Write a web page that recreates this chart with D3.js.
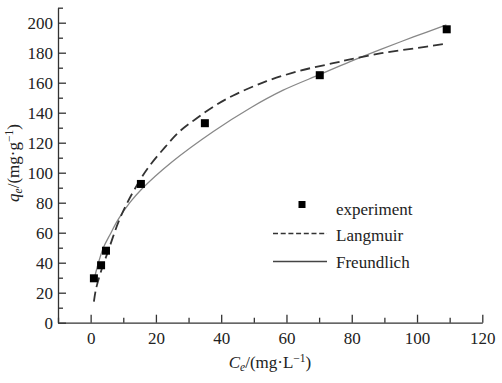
<!DOCTYPE html>
<html>
<head>
<meta charset="utf-8">
<script src="https://cdn.jsdelivr.net/npm/d3@7"></script>
<style>
  body { margin: 0; background: #fff; }
  svg text { font-family: "Times New Roman", "Liberation Serif", "DejaVu Serif", serif; fill: #222; }
</style>
</head>
<body>
<div id="container"></div>
<script>
// experiment points [Ce, qe]
var experiment = [[1.0, 29.6], [3.2, 38.3], [4.7, 48], [15.4, 92.5], [35, 133], [70.2, 165], [109.1, 195.6]];
// fitted curves
var langmuir = [[1.0, 14], [1.6, 22], [3, 33], [5.4, 48], [8.5, 67], [11, 79], [15.1, 95], [18.2, 105],
  [22.8, 117], [27, 127], [32, 135.5], [37.6, 144], [43.7, 151.5], [53.9, 161], [64.2, 168], [74.3, 173],
  [79.5, 175.5], [88.7, 179.5], [98.9, 182.8], [109, 186]];
var freundlich = [[1, 28], [2, 37], [3.9, 50], [6, 59], [8.5, 69], [12, 80], [15.6, 89], [24.8, 107],
  [37.6, 127.5], [48.8, 143], [59, 155], [70.3, 165.5], [79.5, 174], [88.7, 182], [98.9, 190.5], [109, 198.5]];

var xMajor = [0, 20, 40, 60, 80, 100, 120];
var xMinor = [-10, 10, 30, 50, 70, 90, 110];
var yMajor = [0, 20, 40, 60, 80, 100, 120, 140, 160, 180, 200];
var yMinor = [10, 30, 50, 70, 90, 110, 130, 150, 170, 190, 210];
var legendItems = ["experiment", "Langmuir", "Freundlich"];

var W = 502, H = 383;
var FONT = '"Times New Roman", "Liberation Serif", "DejaVu Serif", serif';
var FS = '17px', SUB = '11.5px';
var x = d3.scaleLinear().domain([-10, 120]).range([58, 482.3]);
var y = d3.scaleLinear().domain([0, 210]).range([322.7, 7.7]);

var svg = d3.select('#container').append('svg')
  .attr('width', W).attr('height', H);

// axes
var gx = svg.append('g').attr('transform', 'translate(0,' + y(0) + ')');
gx.call(d3.axisBottom(x).tickValues(xMajor).tickSizeInner(-8).tickSizeOuter(0).tickPadding(9));
gx.append('g').call(d3.axisBottom(x).tickValues(xMinor).tickSizeInner(-5).tickSizeOuter(0).tickFormat(''))
  .select('.domain').remove();

var gy = svg.append('g').attr('transform', 'translate(' + x(-10) + ',0)');
gy.call(d3.axisLeft(y).tickValues(yMajor).tickSizeInner(-8).tickSizeOuter(0).tickPadding(5));
gy.append('g').call(d3.axisLeft(y).tickValues(yMinor).tickSizeInner(-5).tickSizeOuter(0).tickFormat(''))
  .select('.domain').remove();

svg.selectAll('g').attr('font-family', FONT);
svg.selectAll('.tick text').style('font-size', FS).style('font-family', FONT).attr('fill', '#222');
svg.selectAll('.domain, .tick line').attr('stroke', '#333').attr('stroke-width', 1.3);

// curves
var line = d3.line().x(function(d) { return x(d[0]); }).y(function(d) { return y(d[1]); })
  .curve(d3.curveCatmullRom);

svg.append('path').datum(freundlich)
  .attr('d', line).attr('fill', 'none').attr('stroke', '#888').attr('stroke-width', 1.3);
svg.append('path').datum(langmuir)
  .attr('d', line).attr('fill', 'none').attr('stroke', '#333').attr('stroke-width', 1.8)
  .attr('stroke-dasharray', '10,5');

var s = 8;
svg.selectAll('rect.pt').data(experiment).enter().append('rect')
  .classed('pt', true)
  .attr('x', function(d) { return x(d[0]) - s / 2; })
  .attr('y', function(d) { return y(d[1]) - s / 2; })
  .attr('width', s).attr('height', s).attr('fill', '#000');

// legend
var lg = svg.append('g');
lg.append('rect').attr('x', 298.5).attr('y', 201).attr('width', 7).attr('height', 7).attr('fill', '#000');
lg.append('line').attr('x1', 273).attr('x2', 327).attr('y1', 233.5).attr('y2', 233.5)
  .attr('stroke', '#333').attr('stroke-width', 1.3).attr('stroke-dasharray', '5,2.7');
lg.append('line').attr('x1', 273).attr('x2', 327).attr('y1', 261.5).attr('y2', 261.5)
  .attr('stroke', '#444').attr('stroke-width', 1.3);
lg.selectAll('text').data(legendItems).enter().append('text')
  .attr('x', 336).attr('y', function(d, i) { return 209 + i * 26.5; })
  .attr('dy', '0.35em').style('font-size', FS).style('font-family', FONT).text(function(d) { return d; });

// axis titles
var xt = svg.append('text').attr('x', 270).attr('y', 368).attr('text-anchor', 'middle')
  .style('font-size', FS).style('font-family', FONT);
xt.append('tspan').style('font-style', 'italic').text('C');
xt.append('tspan').attr('dy', 3).style('font-size', SUB).style('font-style', 'italic').text('e');
xt.append('tspan').attr('dy', -3).text('/(mg\u00b7L');
xt.append('tspan').attr('dy', -6).style('font-size', SUB).text('\u22121');
xt.append('tspan').attr('dy', 6).text(')');

var yt = svg.append('text').attr('transform', 'translate(19,163) rotate(-90)')
  .attr('text-anchor', 'middle').style('font-size', FS).style('font-family', FONT);
yt.append('tspan').style('font-style', 'italic').text('q');
yt.append('tspan').attr('dy', 3).style('font-size', SUB).style('font-style', 'italic').text('e');
yt.append('tspan').attr('dy', -3).text('/(mg\u00b7g');
yt.append('tspan').attr('dy', -6).style('font-size', SUB).text('\u22121');
yt.append('tspan').attr('dy', 6).text(')');
</script>
</body>
</html>
